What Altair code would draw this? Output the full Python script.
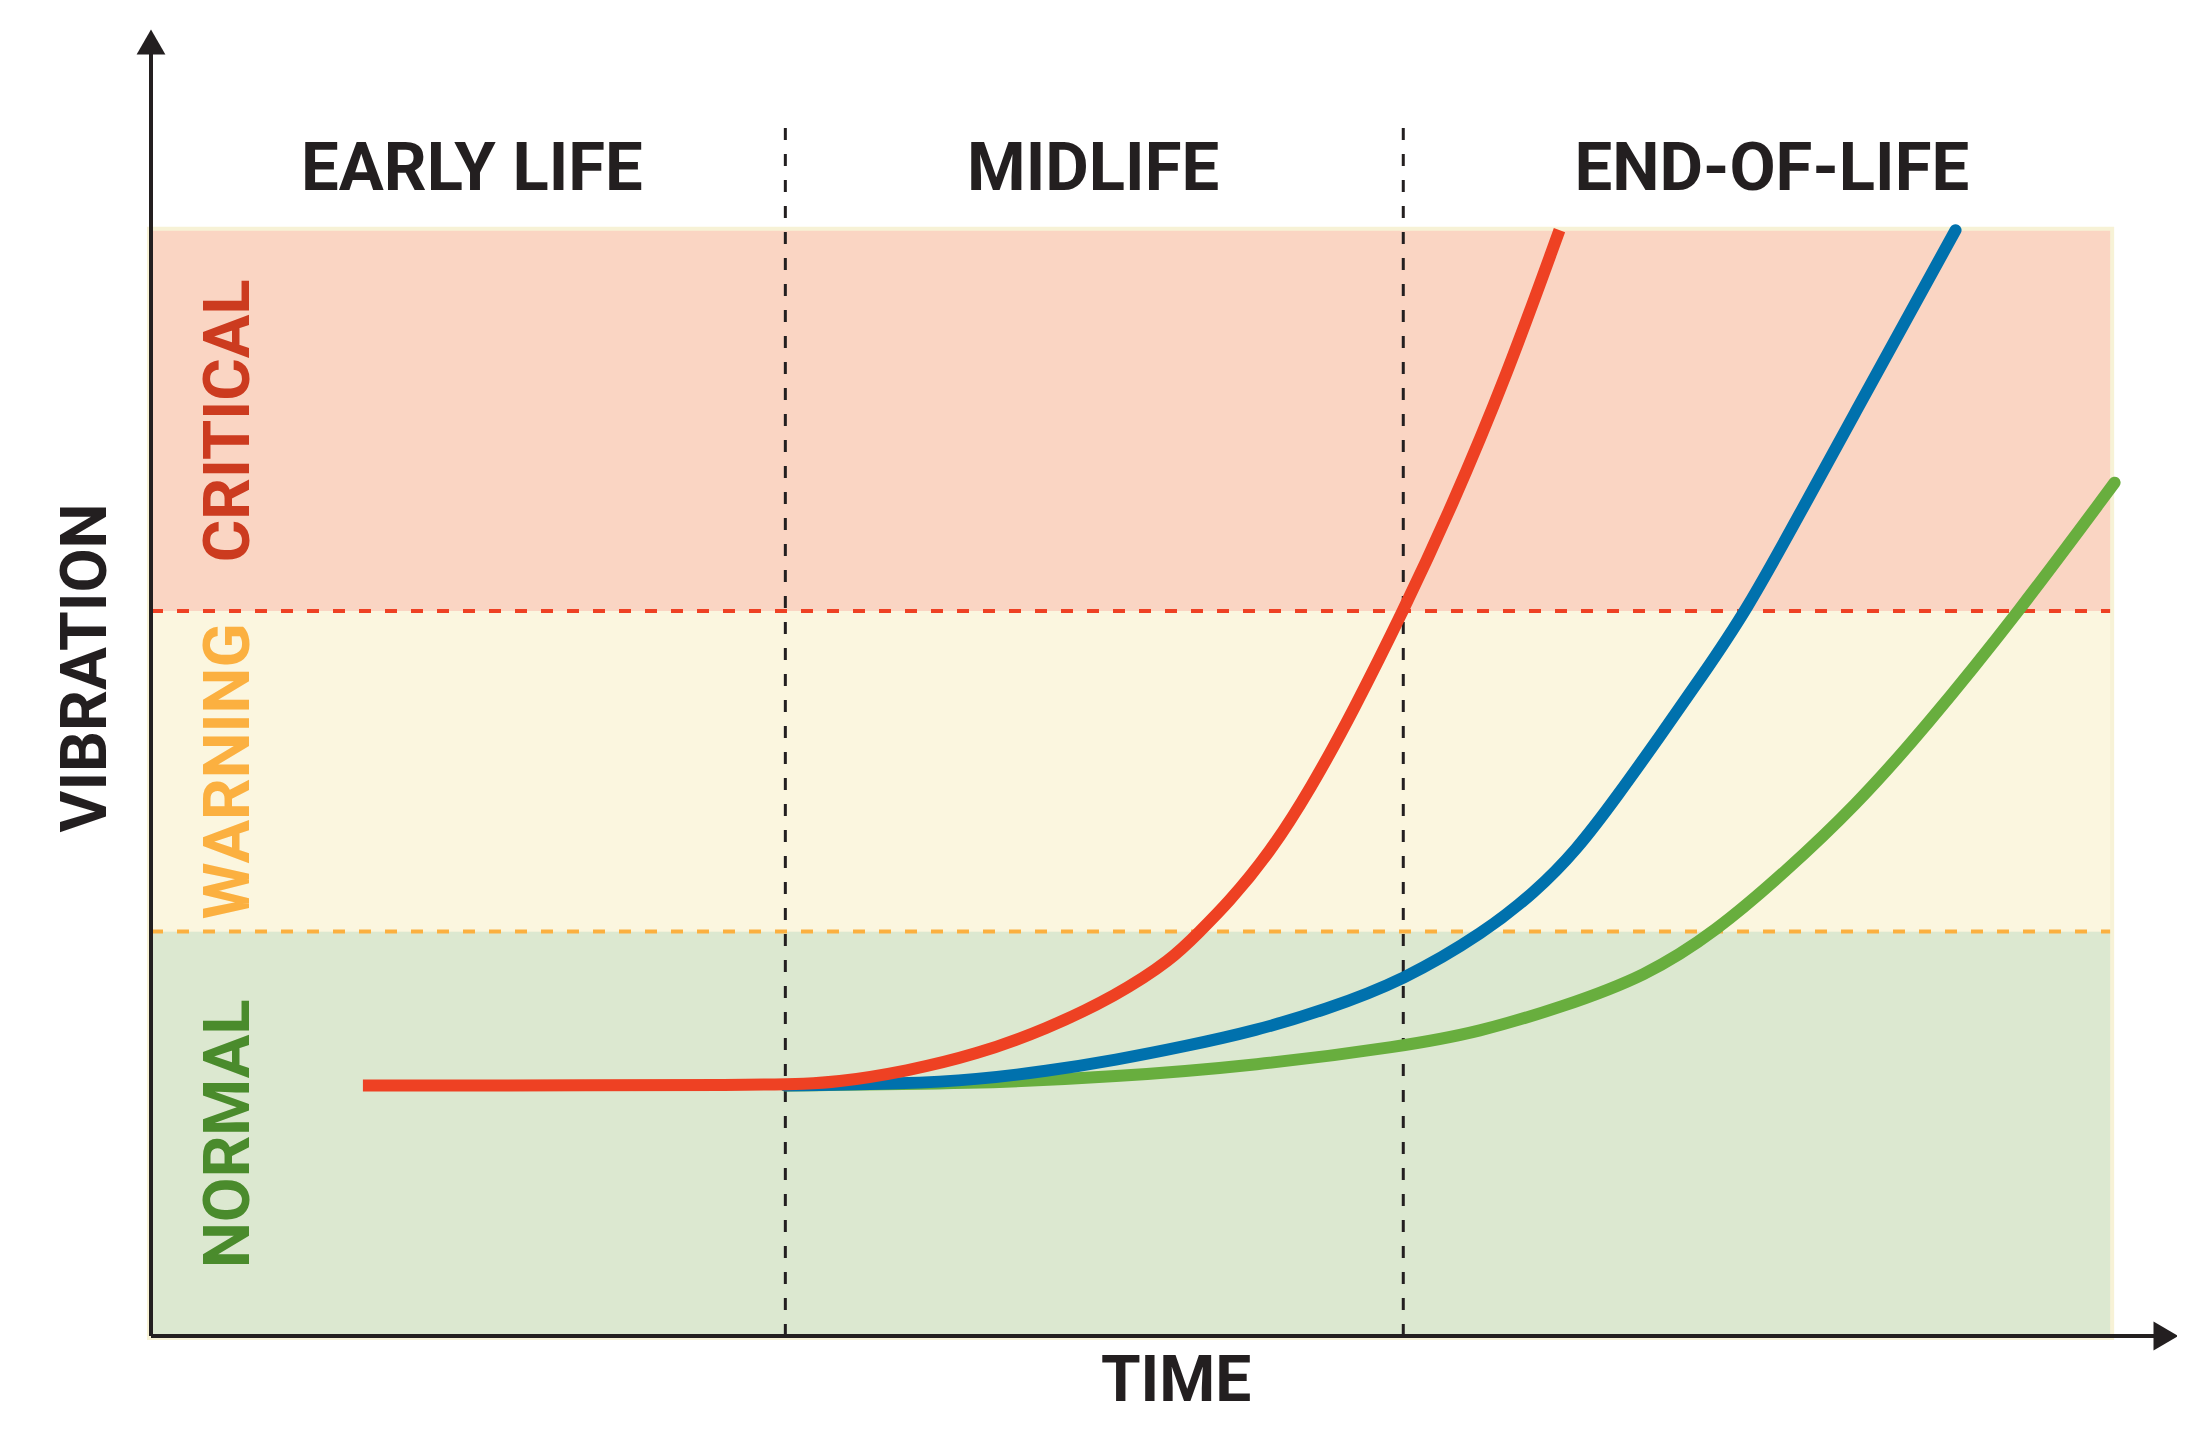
import altair as alt
import pandas as pd

# ---- data (time / vibration in arbitrary 0-100 units) ----
red_t = [10.46, 31.31, 33.85, 37.30, 40.74, 44.18, 47.62, 50.38, 51.75, 53.13, 55.20, 57.26, 59.33, 61.81, 64.15, 66.90, 69.52]
red_v = [19.2, 19.2, 19.43, 20.29, 21.57, 23.50, 26.06, 28.84, 30.98, 33.12, 36.96, 41.99, 47.86, 55.56, 63.36, 73.52, 84.74]
blue_t = [31.31, 37.30, 40.74, 44.18, 47.62, 51.07, 54.51, 57.95, 61.81, 65.87, 68.28, 70.34, 72.41, 74.47, 76.54, 78.74, 81.36, 84.11, 86.87, 89.07]
blue_v = [19.2, 19.33, 19.65, 20.29, 21.15, 22.21, 23.39, 24.99, 27.24, 30.98, 33.97, 37.17, 41.45, 45.94, 50.54, 55.56, 62.94, 70.74, 78.54, 84.74]
green_t = [31.31, 40.74, 47.62, 54.51, 61.81, 65.52, 69.65, 73.78, 77.23, 80.67, 84.11, 87.55, 92.17, 96.92]
green_v = [19.2, 19.33, 19.86, 20.72, 22.21, 23.28, 25.21, 27.56, 30.98, 35.57, 40.60, 46.58, 55.45, 65.39]

zone_names = ["NORMAL", "WARNING", "CRITICAL"]
zone_lo = [0.0, 31.0, 55.56]
zone_hi = [31.0, 55.56, 84.7]
zone_fill = ["#dce8d0", "#fbf6df", "#fad5c3"]
zone_text_color = ["#4a8b2c", "#fbb040", "#cc3b1f"]
band_right = 96.7

phase_names = ["EARLY LIFE", "MIDLIFE", "END-OF-LIFE"]
phase_label_x = [15.84, 46.5, 80.0]
phase_bounds = [31.31, 61.81]
phase_line_top = 92.57

FONT = "Roboto"
DARK = "#231f20"

xs = alt.Scale(domain=[0, 100], nice=False, zero=False)
ys = alt.Scale(domain=[0, 100], nice=False, zero=False)

# ---- bands ----
bands = pd.DataFrame({"zone": zone_names, "lo": zone_lo, "hi": zone_hi,
                      "x0": [0.0] * 3, "x1": [band_right] * 3, "fill": zone_fill})
band_layer = alt.Chart(bands).mark_rect().encode(
    x=alt.X("x0:Q", scale=xs, axis=None), x2="x1:Q",
    y=alt.Y("lo:Q", scale=ys, axis=None), y2="hi:Q",
    color=alt.Color("fill:N", scale=None),
)
outline = alt.Chart(pd.DataFrame({"x0": [0.0], "x1": [band_right], "lo": [0.0], "hi": [zone_hi[-1]]})).mark_rect(
    fill="#f7f2d6", stroke="#f7f2d6", strokeWidth=8
).encode(
    x=alt.X("x0:Q", scale=xs, axis=None), x2="x1:Q",
    y=alt.Y("lo:Q", scale=ys, axis=None), y2="hi:Q",
)

# ---- threshold dashed lines ----
thr = pd.DataFrame({"v": [zone_lo[1], zone_lo[2]], "x0": [0.0, 0.0], "x1": [band_right, band_right],
                    "c": ["#fbb040", "#ee4123"]})
thr_layer = alt.Chart(thr).mark_rule(strokeWidth=4, strokeDash=[12, 14]).encode(
    x=alt.X("x0:Q", scale=xs, axis=None), x2="x1:Q",
    y=alt.Y("v:Q", scale=ys, axis=None),
    color=alt.Color("c:N", scale=None),
)

# ---- phase dashed lines ----
ph = pd.DataFrame({"t": phase_bounds, "lo": [0.0, 0.0], "hi": [phase_line_top] * 2})
ph_layer = alt.Chart(ph).mark_rule(strokeWidth=3, strokeDash=[12, 14], color=DARK).encode(
    x=alt.X("t:Q", scale=xs, axis=None),
    y=alt.Y("lo:Q", scale=ys, axis=None), y2="hi:Q",
)

# ---- curves ----
def curve(t, v, col, cap):
    df = pd.DataFrame({"t": t, "v": v})
    return alt.Chart(df).mark_line(interpolate="basis", strokeWidth=12, color=col,
                                   strokeCap=cap).encode(
        x=alt.X("t:Q", scale=xs, axis=None),
        y=alt.Y("v:Q", scale=ys, axis=None),
    )

green_layer = curve(green_t, green_v, "#68ae3e", "round")
blue_layer = curve(blue_t, blue_v, "#0071ad", "round")
red_layer = curve(red_t, red_v, "#ee4123", "butt")

# ---- axes with arrows ----
axes_df = pd.DataFrame({"x0": [0.0, 0.0], "y0": [0.0, 0.0], "x1": [0.0, 99.0], "y1": [98.5, 0.0]})
axes_layer = alt.Chart(axes_df).mark_rule(strokeWidth=4, color=DARK).encode(
    x=alt.X("x0:Q", scale=xs, axis=None), x2="x1:Q",
    y=alt.Y("y0:Q", scale=ys, axis=None), y2="y1:Q",
)
arrow_up = alt.Chart(pd.DataFrame({"x": [0.0], "y": [100.0]})).mark_point(
    shape="triangle-up", filled=True, size=830, color=DARK, opacity=1, yOffset=11).encode(
    x=alt.X("x:Q", scale=xs, axis=None), y=alt.Y("y:Q", scale=ys, axis=None))
arrow_right = alt.Chart(pd.DataFrame({"x": [100.0], "y": [0.0]})).mark_point(
    shape="triangle-right", filled=True, size=830, color=DARK, opacity=1, xOffset=-11).encode(
    x=alt.X("x:Q", scale=xs, axis=None), y=alt.Y("y:Q", scale=ys, axis=None))

# ---- texts ----
phase_df = pd.DataFrame({"label": phase_names, "x": phase_label_x, "y": [89.35] * 3})
phase_text = alt.Chart(phase_df).mark_text(font=FONT, fontWeight="bold", fontSize=67, color=DARK,
                                           align="center", baseline="middle").encode(
    x=alt.X("x:Q", scale=xs, axis=None), y=alt.Y("y:Q", scale=ys, axis=None), text="label:N")

zone_df = pd.DataFrame({"label": zone_names, "x": [3.85] * 3,
                        "y": [(a + b) / 2 for a, b in zip(zone_lo, zone_hi)], "c": zone_text_color})
zone_text = alt.Chart(zone_df).mark_text(font=FONT, fontWeight="bold", fontSize=65, angle=270,
                                         align="center", baseline="middle").encode(
    x=alt.X("x:Q", scale=xs, axis=None), y=alt.Y("y:Q", scale=ys, axis=None), text="label:N",
    color=alt.Color("c:N", scale=None))

ytitle = alt.Chart(pd.DataFrame({"label": ["VIBRATION"], "x": [-3.16], "y": [51.2]})).mark_text(
    font=FONT, fontWeight="bold", fontSize=64, angle=270, color=DARK, align="center", baseline="middle").encode(
    x=alt.X("x:Q", scale=xs, axis=None), y=alt.Y("y:Q", scale=ys, axis=None), text="label:N")

xtitle = alt.Chart(pd.DataFrame({"label": ["TIME"], "x": [50.6], "y": [-3.5]})).mark_text(
    font=FONT, fontWeight="bold", fontSize=64, color=DARK, align="center", baseline="middle").encode(
    x=alt.X("x:Q", scale=xs, axis=None), y=alt.Y("y:Q", scale=ys, axis=None), text="label:N")

chart = alt.layer(
    outline, band_layer, thr_layer, ph_layer,
    green_layer, blue_layer, red_layer,
    axes_layer, arrow_up, arrow_right,
    phase_text, zone_text, ytitle, xtitle,
).properties(
    width=2026, height=1305,
    padding={"left": 143, "top": 23, "right": 0, "bottom": 82},
    autosize=alt.AutoSizeParams(type="none"),
    background="white",
).configure_view(stroke=None)

chart.save("out.html", embed_options={"renderer": "svg", "actions": False})
